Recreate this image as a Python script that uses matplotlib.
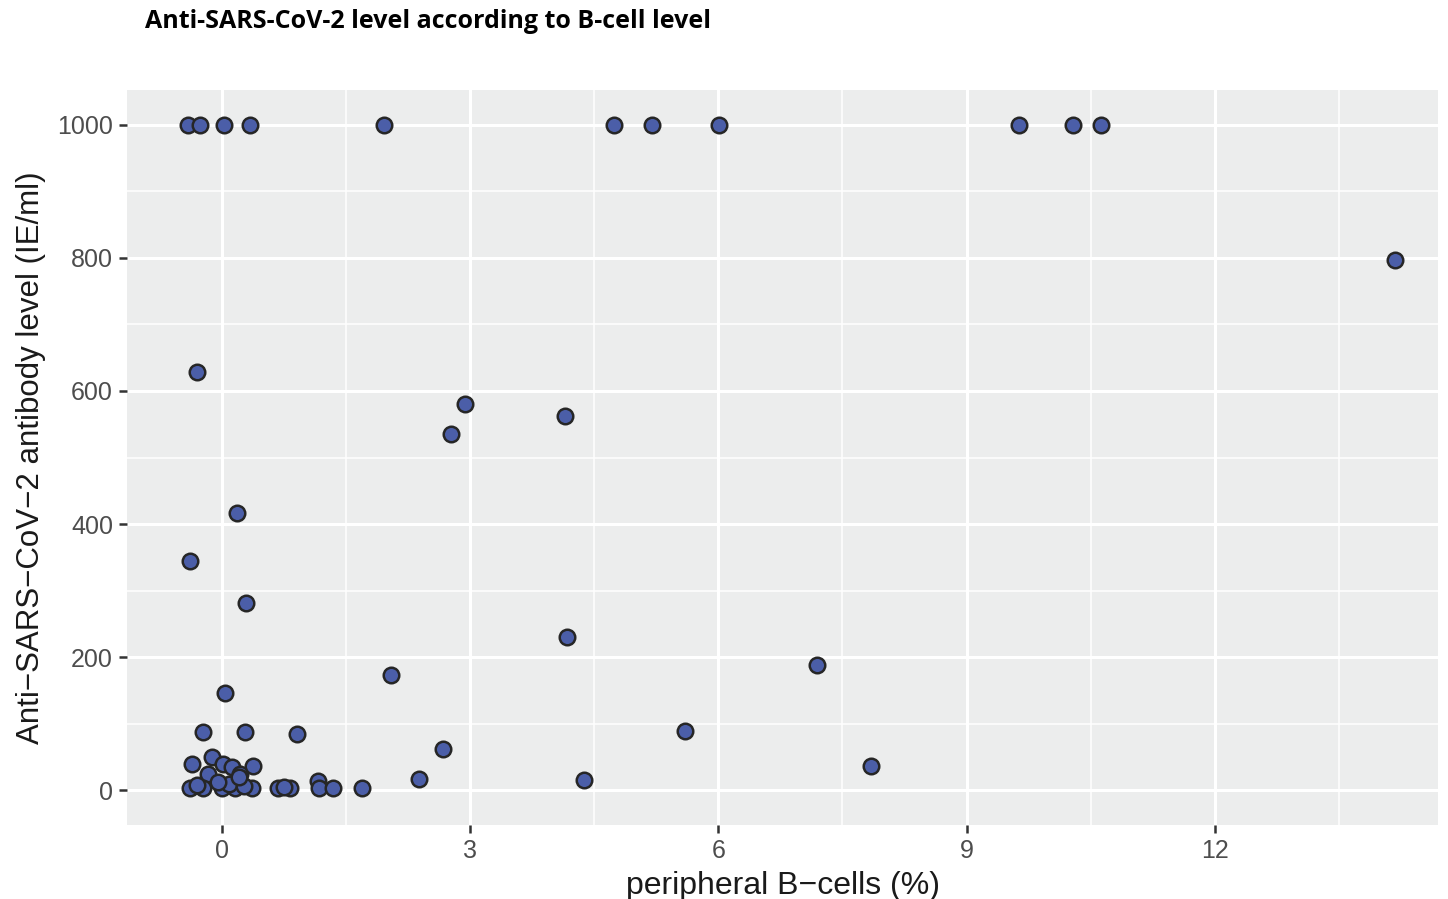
"""Scatter of anti-SARS-CoV-2 antibody level against peripheral B-cell percentage."""

import matplotlib
matplotlib.use("Agg")
import matplotlib.pyplot as plt
from matplotlib.ticker import MultipleLocator

# B-cells (%) and antibody level (IE/ml)
b_cells = [
    -0.41, -0.27, 0.02, 0.34, 1.96, 4.74, 5.20, 6.01, 9.64, 10.29, 10.63,
    14.18, -0.30, 2.94, 2.77, 4.15, 0.18, -0.39, 0.29, 4.17, 7.19, 2.04,
    5.60, 7.85, 4.38, 0.04, -0.23, 0.28, 0.91, 2.67, -0.36, -0.12, 0.01,
    0.12, 0.22, 0.37, -0.17, 2.38, 1.16,
    -0.39, -0.23, 0.00, 0.16, 0.36, 0.68, 0.82, 1.17, 1.34, 1.69,
    -0.30, 0.08, 0.27, -0.05, 0.20, 0.75,
]
antibody = [
    1000, 1000, 1000, 1000, 1000, 1000, 1000, 1000, 1000, 1000, 1000,
    797, 628, 580, 535, 562, 417, 345, 282, 230, 189, 174,
    89, 36, 15, 146, 87, 87, 85, 62, 40, 50, 40,
    35, 25, 37, 24, 17, 14,
    4, 4, 4, 4, 4, 4, 4, 4, 4, 4,
    8, 10, 6, 12, 20, 5,
]

TITLE = "Anti-SARS-CoV-2 level according to B-cell level"
XLABEL = "peripheral B\u2212cells (%)"
YLABEL = "Anti\u2212SARS\u2212CoV\u22122 antibody level (IE/ml)"


def plot():
    plt.rcParams["font.family"] = ["Liberation Sans", "DejaVu Sans"]
    fig = plt.figure(figsize=(14.48, 8.99), dpi=100)
    ax = fig.add_axes([127 / 1448, 74 / 899, 1311 / 1448, 735 / 899])
    ax.set_facecolor("#ECEDED")

    ax.scatter(b_cells, antibody, s=125, color="#4B5EA8",
               edgecolor="#262626", linewidth=1.8, zorder=3)

    ax.set_xlim(-1.15, 14.7)
    ax.set_ylim(-52, 1052)
    ax.xaxis.set_major_locator(MultipleLocator(3))
    ax.xaxis.set_minor_locator(MultipleLocator(1.5))
    ax.yaxis.set_major_locator(MultipleLocator(200))
    ax.yaxis.set_minor_locator(MultipleLocator(100))
    ax.grid(which="major", color="white", linewidth=2.2)
    ax.grid(which="minor", color="white", linewidth=1.1)
    ax.set_axisbelow(True)
    for s in ax.spines.values():
        s.set_visible(False)

    ax.tick_params(which="major", length=6, width=1.8, color="#333333",
                   labelsize=18, labelcolor="#4D4D4D", pad=4)
    ax.tick_params(which="minor", length=0)

    ax.set_xlabel(XLABEL, fontsize=23, color="#1A1A1A", labelpad=6)
    ax.set_ylabel(YLABEL, fontsize=22.5, color="#1A1A1A", labelpad=8)
    fig.text(145 / 1448, 1 - 22 / 899, TITLE, fontsize=18, fontweight="bold",
             va="center", ha="left", family=["Open Sans", "DejaVu Sans"])

    fig.savefig("out.png", dpi=100)


if __name__ == "__main__":
    plot()
